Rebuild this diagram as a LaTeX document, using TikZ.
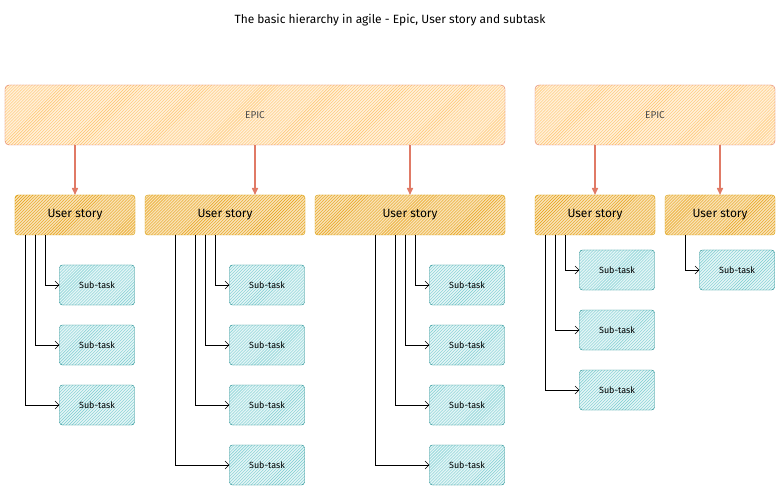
\documentclass[tikz,border=0pt]{standalone}
\usepackage{fontspec}
\setmainfont{Fira Sans}
\usetikzlibrary{patterns,arrows.meta}
\definecolor{epicline}{HTML}{E07A66}
\definecolor{epicfill}{HTML}{FFC46A}
\definecolor{storyline}{HTML}{D79B00}
\definecolor{storyfill}{HTML}{E8A010}
\definecolor{taskline}{HTML}{12868A}
\definecolor{taskfill}{HTML}{7ACDD1}
\begin{document}
\begin{tikzpicture}
        [x=1bp,y=-1bp,
        epicdecorate/.style={draw=epicline,rounded corners=4bp,preaction={fill=epicfill!25},pattern=north east lines,pattern color=epicfill,minimum height=60bp,font=\normalsize,text=black!70},%
        storydecorate/.style={draw=storyline,rounded corners=3bp,preaction={fill=storyfill!30},pattern=north east lines,pattern color=storyfill,minimum height=40bp,font=\large},%
        taskdecorate/.style={draw=taskline,rounded corners=3bp,preaction={fill=taskfill!20},pattern=north east lines,pattern color=taskfill,minimum width=75bp,minimum height=40bp,font=\small},%
        epicarrow/.style={-{Triangle[length=7bp,width=6bp]},draw=epicline,line width=1.5bp},%
        taskarrow/.style={-{Straight Barb[length=4bp]},thin}]
        \useasboundingbox (0,0) rectangle (781,491);
        \node (title) at (390,20) {\large The basic hierarchy in agile - Epic, User story and subtask};
        %% epics
        \node (epicA) at (255,115) [epicdecorate,minimum width=500bp] {EPIC};
        \node (epicB) at (655,115) [epicdecorate,minimum width=240bp] {EPIC};
        %% user stories
        \foreach \nodename/\x/\w in {usA/75/120, usB/225/160, usC/410/190, usD/595/120, usE/720/110}
        {
          \node (\nodename) at (\x,215) [storydecorate,minimum width=\w bp] {User story};
        }
        %% epic to story
        \foreach \startnode/\endnode/\x in {epicA/usA/75, epicA/usB/255, epicA/usC/410, epicB/usD/595, epicB/usE/720}
        {
          \draw [epicarrow] (\x,145) -- (\x,195);
        }
        %% sub-tasks
        \foreach \storynode/\x/\y/\lx [count=\i] in {usA/97/285/45, usA/97/345/35, usA/97/405/25,
          usB/267/285/215, usB/267/345/205, usB/267/405/195, usB/267/465/175,
          usC/467/285/415, usC/467/345/405, usC/467/405/395, usC/467/465/375,
          usD/617/270/565, usD/617/330/555, usD/617/390/545, usE/737/270/685}
        {
          \node (task\i) at (\x,\y) [taskdecorate] {Sub-task};
          \draw [taskarrow] (\lx,235) |- (task\i.west);
        }
      \end{tikzpicture}
\end{document}
